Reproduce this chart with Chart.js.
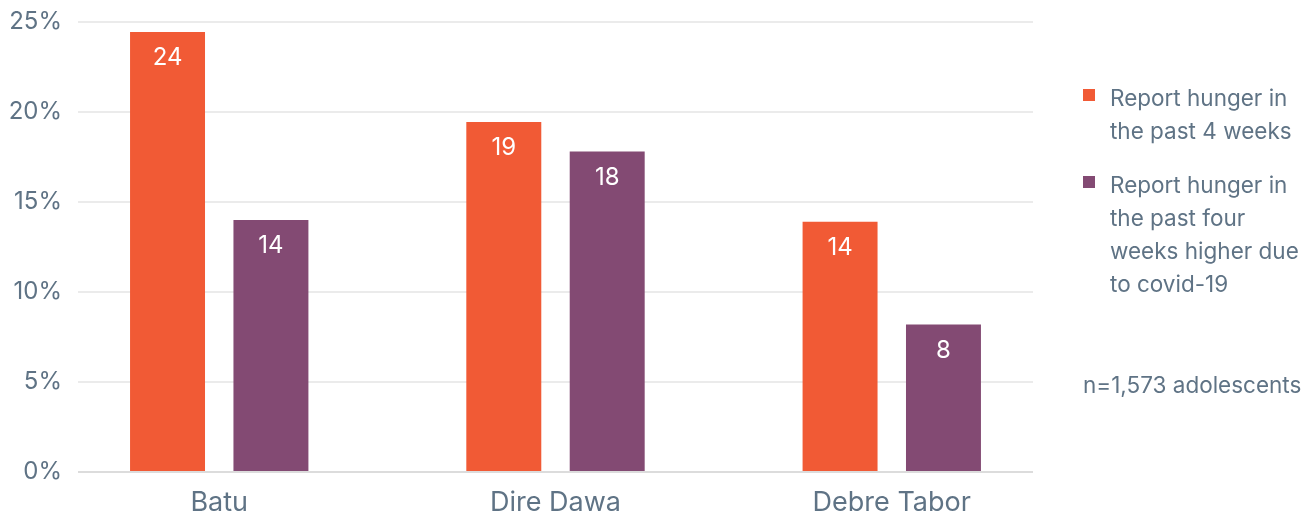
<!DOCTYPE html>
<html>
<head>
<meta charset="utf-8">
<script src="https://cdn.jsdelivr.net/npm/chart.js@4"></script>
<style>
  body { margin: 0; background: #fff; font-family: Inter, sans-serif; }
  #wrap { position: relative; width: 1312px; height: 513px; }
  #legend { position: absolute; left: 1083px; top: 81px; color: #5f7385; font-size: 22.5px; line-height: 33px; }
  .item { display: flex; margin-bottom: 21px; }
  .box { width: 12px; height: 12px; margin-top: 8px; margin-right: 15px; flex: none; }
  #note { position: absolute; left: 1083px; top: 371px; color: #5f7385; font-size: 22.5px; }
</style>
</head>
<body>
<div id="wrap">
  <canvas id="chart" width="1312" height="513"></canvas>
  <div id="legend"></div>
  <div id="note">n=1,573 adolescents</div>
</div>
<script>
// data
var categories = ['Batu', 'Dire Dawa', 'Debre Tabor'];
var hungerPast4Weeks = [24.45, 19.45, 13.9];
var hungerHigherCovid = [14.0, 17.8, 8.2];
var seriesNames = ['Report hunger in the past 4 weeks', 'Report hunger in the past four weeks higher due to covid-19'];
var legendLines = [['Report hunger in', 'the past 4 weeks'], ['Report hunger in', 'the past four', 'weeks higher due', 'to covid-19']];
var yTicks = [0, 5, 10, 15, 20, 25];

var orange = '#f15a35';
var purple = '#834a73';
var textGrey = '#5f7385';

function toPoints(values) {
    return values.map(function (v, i) { return {x: i, y: v}; });
}

// legend html
var legendDiv = document.getElementById('legend');
[orange, purple].forEach(function (col, i) {
    var item = document.createElement('div');
    item.className = 'item';
    item.innerHTML = '<div class="box" style="background:' + col + '"></div><div>' + legendLines[i].join('<br>') + '</div>';
    legendDiv.appendChild(item);
});

// white value labels inside the bars
var barLabels = {
    id: 'barLabels',
    afterDatasetsDraw: function (chart) {
        var ctx = chart.ctx;
        ctx.save();
        ctx.fillStyle = '#ffffff';
        ctx.font = '24px Inter, sans-serif';
        ctx.textAlign = 'center';
        ctx.textBaseline = 'middle';
        chart.data.datasets.forEach(function (ds, di) {
            chart.getDatasetMeta(di).data.forEach(function (bar, i) {
                ctx.fillText(Math.round(ds.data[i].y), bar.x, bar.y + 26);
            });
        });
        ctx.restore();
    }
};

var chart = new Chart(document.getElementById('chart'), {
    type: 'bar',
    data: {
        datasets: [{
            label: seriesNames[0],
            data: toPoints(hungerPast4Weeks),
            backgroundColor: orange
        }, {
            label: seriesNames[1],
            data: toPoints(hungerHigherCovid),
            backgroundColor: purple
        }]
    },
    options: {
        responsive: false,
        animation: false,
        categoryPercentage: 0.615,
        barPercentage: 0.725,
        layout: { padding: { top: 22, right: 279, bottom: 0, left: 0 } },
        plugins: {
            legend: { display: false },
            tooltip: { enabled: false }
        },
        scales: {
            x: {
                type: 'linear',
                offset: false,
                min: -0.42,
                max: 2.42,
                grid: { display: false },
                border: { display: false },
                afterBuildTicks: function (scale) {
                    scale.ticks = categories.map(function (c, i) { return {value: i}; });
                },
                afterFit: function (scale) { scale.height = 41; },
                ticks: {
                    color: textGrey,
                    font: { family: 'Inter, sans-serif', size: 27 },
                    padding: 7,
                    maxRotation: 0,
                    autoSkip: false,
                    callback: function (v) { return categories[v]; }
                }
            },
            y: {
                min: 0,
                max: 25,
                afterBuildTicks: function (scale) {
                    scale.ticks = yTicks.map(function (v) { return {value: v}; });
                },
                afterFit: function (scale) {
                    scale.width = 78;
                    scale.paddingTop = 0;
                    scale.paddingBottom = 0;
                },
                border: { display: false },
                grid: {
                    drawTicks: false,
                    lineWidth: 2,
                    color: function (c) { return c.tick && c.tick.value === 0 ? '#dcdcdc' : '#ebebeb'; }
                },
                ticks: {
                    color: textGrey,
                    font: { family: 'Inter, sans-serif', size: 24 },
                    padding: 16,
                    callback: function (v) { return v + '%'; }
                }
            }
        }
    },
    plugins: [barLabels]
});
</script>
</body>
</html>
